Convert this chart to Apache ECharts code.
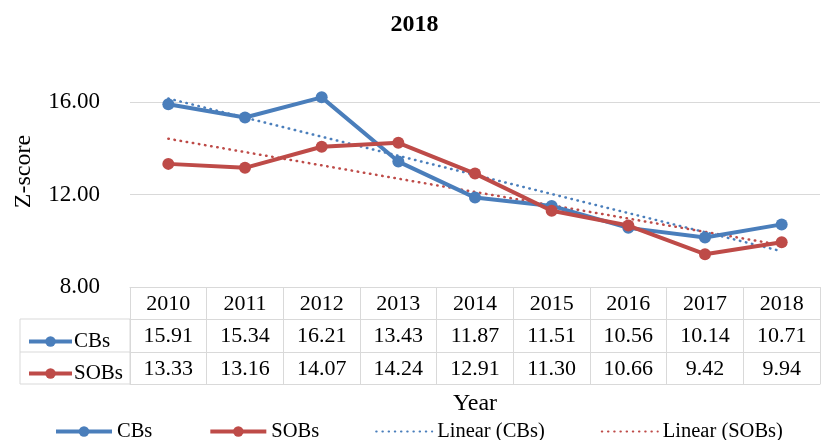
<!DOCTYPE html>
<html>
<head>
<meta charset="utf-8">
<script src="https://cdn.jsdelivr.net/npm/echarts@6/dist/echarts.min.js"></script>
<style>
  html, body { margin: 0; padding: 0; background: #fff; }
  #chart { width: 829px; height: 440px; }
</style>
</head>
<body>
<div id="chart"></div>
<script>
// data
var years = ["2010", "2011", "2012", "2013", "2014", "2015", "2016", "2017", "2018"];
var cbs = [15.91, 15.34, 16.21, 13.43, 11.87, 11.51, 10.56, 10.14, 10.71];
var sobs = [13.33, 13.16, 14.07, 14.24, 12.91, 11.30, 10.66, 9.42, 9.94];

var BLUE = "#4a7ebb";
var RED = "#be4b48";
var GRID = "#d9d9d9";
var FONT = "Liberation Serif";
var DOTS = [0.5, 5.7];

// least squares trend, like excel's "Linear" trendline
function linearTrend(vals) {
  var n = vals.length, sx = 0, sy = 0, sxy = 0, sxx = 0;
  vals.forEach(function (v, i) { sx += i; sy += v; sxy += i * v; sxx += i * i; });
  var b = (n * sxy - sx * sy) / (n * sxx - sx * sx);
  var a = (sy - b * sx) / n;
  return vals.map(function (v, i) { return +(a + b * i).toFixed(3); });
}

var myChart = echarts.init(document.getElementById("chart"));

var tableAxis = function (values, offset) {
  return {
    type: "category",
    position: "bottom",
    offset: offset,
    data: values,
    axisLine: { lineStyle: { color: GRID, width: 1 } },
    axisTick: { show: false },
    axisLabel: { interval: 0, color: "#000", fontFamily: FONT, fontSize: 22, margin: 6 }
  };
};

var lineKey = function (name) {
  return { name: name, lineStyle: { width: 4 } };
};

myChart.setOption({
  animation: false,
  textStyle: { fontFamily: FONT },
  title: {
    text: "2018",
    left: "center",
    top: 8,
    textStyle: { fontFamily: FONT, fontSize: 24, fontWeight: "bold", color: "#000" }
  },
  legend: [
    {
      data: [
        lineKey("CBs"),
        lineKey("SOBs"),
        { name: "Linear (CBs)", itemStyle: { opacity: 0 } },
        { name: "Linear (SOBs)", itemStyle: { opacity: 0 } }
      ],
      left: 49,
      top: 416,
      itemWidth: 56,
      itemHeight: 13,
      itemGap: 56,
      textStyle: { fontFamily: FONT, fontSize: 20.5, color: "#000" }
    },
    {
      data: [lineKey("CBs"), lineKey("SOBs")],
      orient: "vertical",
      left: 22,
      top: 326,
      itemWidth: 43,
      itemHeight: 13,
      itemGap: 11,
      textStyle: { fontFamily: FONT, fontSize: 21, color: "#000", padding: [0, 0, 0, -3] }
    }
  ],
  grid: { left: 130, right: 9, top: 56, bottom: 153, containLabel: false },
  xAxis: [
    {
      type: "category",
      position: "bottom",
      data: years,
      axisLine: { lineStyle: { color: GRID, width: 1 } },
      axisTick: { show: true, interval: 0, length: 97, lineStyle: { color: GRID } },
      axisLabel: { interval: 0, color: "#000", fontFamily: FONT, fontSize: 22, margin: 6 }
    },
    tableAxis(cbs.map(function (v) { return v.toFixed(2); }), 32),
    tableAxis(sobs.map(function (v) { return v.toFixed(2); }), 65),
    {
      type: "category",
      position: "bottom",
      offset: 97,
      data: years,
      axisLine: { lineStyle: { color: GRID, width: 1 } },
      axisTick: { show: false },
      axisLabel: { show: false },
      name: "Year",
      nameLocation: "middle",
      nameGap: 8,
      nameTextStyle: { fontFamily: FONT, fontSize: 24, color: "#000" }
    }
  ],
  yAxis: {
    type: "value",
    min: 8,
    max: 18,
    interval: 4,
    name: "Z-score",
    nameLocation: "middle",
    nameGap: 94,
    nameTextStyle: { fontFamily: FONT, fontSize: 24, color: "#000" },
    axisLine: { show: false },
    axisTick: { show: false },
    axisLabel: {
      color: "#000",
      fontFamily: FONT,
      fontSize: 23,
      margin: 30,
      showMaxLabel: false,
      formatter: function (v) { return v.toFixed(2); }
    },
    splitLine: { showMaxLine: false, lineStyle: { color: GRID, width: 1 } }
  },
  graphic: [
    {
      type: "rect",
      shape: { x: 20, y: 319, width: 110, height: 65 },
      style: { fill: "none", stroke: GRID, lineWidth: 1 },
      silent: true
    },
    {
      type: "line",
      shape: { x1: 20, y1: 352, x2: 130, y2: 352 },
      style: { stroke: GRID, lineWidth: 1 },
      silent: true
    }
  ],
  series: [
    {
      name: "CBs",
      type: "line",
      data: cbs,
      symbol: "circle",
      symbolSize: 12,
      itemStyle: { color: BLUE },
      lineStyle: { color: BLUE, width: 4 },
      z: 3
    },
    {
      name: "SOBs",
      type: "line",
      data: sobs,
      symbol: "circle",
      symbolSize: 12,
      itemStyle: { color: RED },
      lineStyle: { color: RED, width: 4 },
      z: 4
    },
    {
      name: "Linear (CBs)",
      type: "line",
      data: linearTrend(cbs),
      symbol: "none",
      itemStyle: { color: BLUE },
      lineStyle: { color: BLUE, width: 2.5, type: DOTS, cap: "round" },
      z: 2
    },
    {
      name: "Linear (SOBs)",
      type: "line",
      data: linearTrend(sobs),
      symbol: "none",
      itemStyle: { color: RED },
      lineStyle: { color: RED, width: 2.5, type: DOTS, cap: "round" },
      z: 2
    }
  ]
});
</script>
</body>
</html>
